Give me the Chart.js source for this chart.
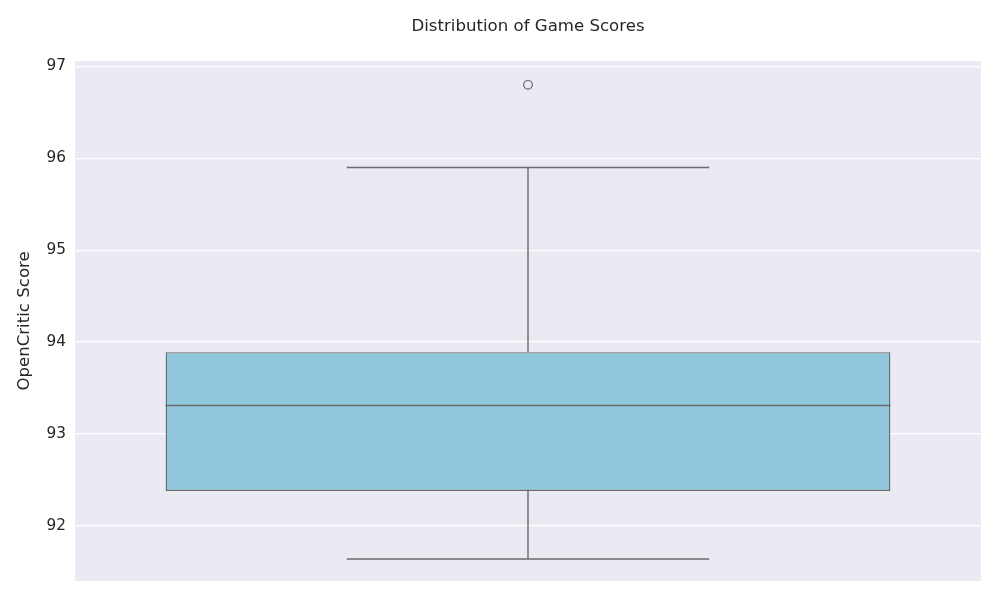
<!DOCTYPE html>
<html>
<head>
<meta charset="utf-8">
<script src="https://cdn.jsdelivr.net/npm/chart.js@4/dist/chart.umd.min.js"></script>
<style>
  html, body { margin: 0; padding: 0; background: #ffffff; }
  #wrap { width: 1000px; height: 600px; }
</style>
</head>
<body>
<div id="wrap"><canvas id="c" width="1000" height="600"></canvas></div>
<script>
// ---- data ----
const categories = [''];
const whiskerLow = [91.64];
const q1 = [92.38];
const median = [93.31];
const q3 = [93.89];
const whiskerHigh = [95.90];
const outliers = [96.80];
const yTicks = [92, 93, 94, 95, 96, 97];

const boxFill = '#91c8de';
const lineColor = '#6b6b6b';
const textColor = '#262626';
const FONT = 'DejaVu Sans';

const bgPlugin = {
  id: 'plotBg',
  beforeDraw(chart) {
    const a = chart.chartArea, ctx = chart.ctx;
    ctx.save();
    ctx.fillStyle = '#eaeaf2';
    ctx.fillRect(a.left, a.top, a.right - a.left, a.bottom - a.top);
    ctx.restore();
  }
};

function seg(points, order) {
  return {
    type: 'line',
    xAxisID: 'x2',
    data: points,
    borderColor: lineColor,
    borderWidth: 1.4,
    pointRadius: 0,
    fill: false,
    order: order
  };
}

const datasets = [{
  type: 'bar',
  xAxisID: 'x',
  data: categories.map((c, i) => [q1[i], q3[i]]),
  backgroundColor: boxFill,
  borderColor: lineColor,
  borderWidth: 1.4,
  borderSkipped: false,
  grouped: false,
  barPercentage: 0.8,
  categoryPercentage: 1.0,
  order: 10
}];

categories.forEach((c, i) => {
  datasets.push(seg([{x: i, y: q3[i]}, {x: i, y: whiskerHigh[i]}], 1));
  datasets.push(seg([{x: i, y: q1[i]}, {x: i, y: whiskerLow[i]}], 1));
  datasets.push(seg([{x: i - 0.2, y: whiskerHigh[i]}, {x: i + 0.2, y: whiskerHigh[i]}], 1));
  datasets.push(seg([{x: i - 0.2, y: whiskerLow[i]}, {x: i + 0.2, y: whiskerLow[i]}], 1));
  datasets.push(seg([{x: i - 0.4, y: median[i]}, {x: i + 0.4, y: median[i]}], 0));
});
datasets.push({
  type: 'scatter',
  xAxisID: 'x2',
  data: outliers.map(v => ({x: 0, y: v})),
  pointRadius: 4.3,
  pointBorderWidth: 1.2,
  pointBackgroundColor: 'rgba(0,0,0,0)',
  pointBorderColor: lineColor,
  order: 0
});

new Chart(document.getElementById('c'), {
  type: 'bar',
  data: { labels: categories, datasets: datasets },
  plugins: [bgPlugin],
  options: {
    responsive: false,
    animation: false,
    devicePixelRatio: 1,
    layout: { padding: { left: 11, right: 19, top: 0, bottom: 19 } },
    plugins: {
      legend: { display: false },
      tooltip: { enabled: false },
      title: {
        display: true,
        fullSize: false,
        text: 'Distribution of Game Scores',
        color: textColor,
        font: { family: FONT, size: 16.6, weight: 'normal' },
        padding: { top: 17, bottom: 24 }
      }
    },
    scales: {
      x: {
        type: 'category',
        display: false,
        offset: true
      },
      x2: {
        type: 'linear',
        display: false,
        offset: false,
        min: -0.5,
        max: 0.5
      },
      y: {
        type: 'linear',
        min: 91.4,
        max: 97.06,
        afterBuildTicks(scale) { scale.ticks = yTicks.map(v => ({ value: v })); },
        afterFit(scale) { scale.width = 64; },
        grid: { color: '#ffffff', lineWidth: 1.3, drawTicks: false },
        border: { display: false },
        ticks: {
          color: textColor,
          padding: 9,
          font: { family: FONT, size: 15.3 },
          callback: v => String(v)
        },
        title: {
          display: true,
          text: 'OpenCritic Score',
          color: textColor,
          font: { family: FONT, size: 16.6 },
          padding: { top: 4, bottom: 4 }
        }
      }
    }
  }
});
</script>
</body>
</html>
